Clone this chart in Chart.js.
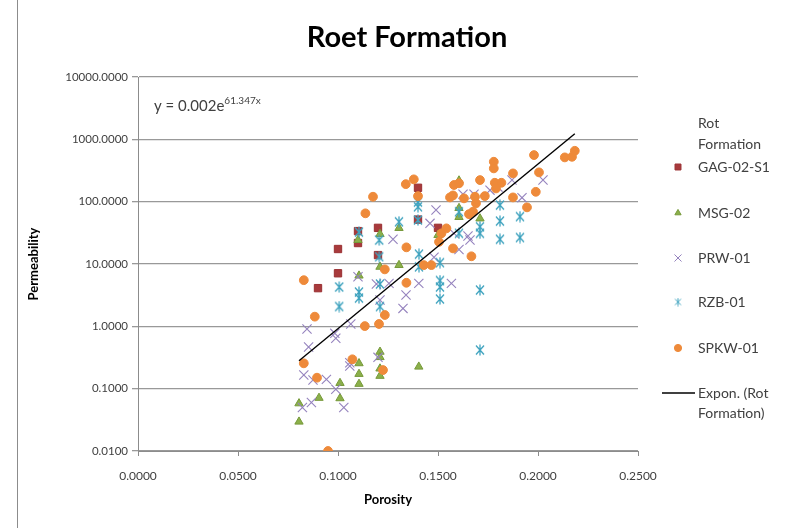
<!DOCTYPE html>
<html>
<head>
<meta charset="utf-8">
<script src="https://cdn.jsdelivr.net/npm/chart.js@4.4.0/dist/chart.umd.min.js"></script>
<style>
  html, body { margin: 0; padding: 0; background: #fff; }
  #wrap { position: relative; width: 796px; height: 528px; }
  #frame { position: absolute; left: 17px; top: 0; width: 1px; height: 528px; background: #8c8c8c; }
</style>
</head>
<body>
<div id="wrap">
  <canvas id="grafico" width="796" height="528"></canvas>
  <div id="frame"></div>
</div>
<script>
// Datos: [porosidad, permeabilidad]
const gagPoints = [[0.090,4.1],[0.100,7.1],[0.100,17.4],[0.110,21.7],[0.110,33.7],[0.120,38],[0.120,13.9],
  [0.140,167],[0.140,51.6],[0.150,38]];

const msgPoints = [[0.110,24.2],[0.121,30.2],[0.1305,37.7],[0.150,29.1],[0.1605,218],[0.1605,78.9],[0.1605,56.6],
  [0.171,53.6],[0.1105,6.5],[0.121,9.0],[0.1305,9.6],[0.121,0.39],[0.121,0.32],[0.121,0.21],[0.121,0.16],
  [0.1105,0.255],[0.1105,0.172],[0.1105,0.119],[0.101,0.123],[0.101,0.070],[0.0905,0.071],[0.0805,0.058],
  [0.0805,0.0295],[0.1404,0.225]];

const prwPoints = [[0.0845,0.905],[0.0853,0.465],[0.0829,0.166],[0.0875,0.138],[0.0942,0.141],[0.0989,0.098],
  [0.1029,0.050],[0.0822,0.050],[0.0867,0.060],[0.1059,0.261],[0.1059,0.231],[0.120,0.318],[0.0984,0.772],
  [0.0989,0.642],[0.1064,1.09],[0.110,6.24],[0.1192,4.77],[0.1255,4.89],[0.121,2.64],[0.134,3.18],[0.1325,1.94],
  [0.1404,4.89],[0.1567,4.89],[0.148,12.8],[0.1605,17.1],[0.166,24.2],[0.1275,24.9],[0.149,73.3],[0.146,44.9],
  [0.158,31],[0.1625,132],[0.168,132],[0.176,153],[0.180,171],[0.187,222],[0.192,116],[0.2025,222],[0.165,28.1]];

const rzbPoints = [[0.1006,4.27],[0.1006,2.08],[0.1105,3.55],[0.1105,2.84],[0.1105,32.5],[0.1206,24.2],[0.1206,13.1],
  [0.121,4.77],[0.121,2.08],[0.1305,47.6],[0.140,98.5],[0.140,82.8],[0.140,50.7],[0.1405,14.4],[0.1405,9.0],
  [0.151,10.5],[0.151,5.43],[0.151,4.27],[0.151,2.74],[0.1605,68.9],[0.1605,31.0],[0.171,39.6],[0.171,31.0],
  [0.171,3.82],[0.171,0.417],[0.181,88.2],[0.181,48.8],[0.181,24.9],[0.191,57.6],[0.191,26.6]];

const spkwPoints = [[0.0829,5.5],[0.0884,1.43],[0.0829,0.255],[0.0895,0.15],[0.095,0.01],[0.1072,0.296],
  [0.1134,1.01],[0.1205,1.09],[0.1234,1.52],[0.1234,8.2],[0.1225,0.199],[0.1342,18.5],[0.1342,5.0],[0.1429,9.6],
  [0.1467,9.6],[0.1505,22.7],[0.1575,17.8],[0.1667,13.3],[0.1175,120],[0.1137,65],[0.1339,191],[0.1379,228],
  [0.140,123],[0.1542,37.3],[0.1517,31],[0.156,117],[0.158,185],[0.1605,197],[0.163,113],[0.1685,120],[0.169,94],
  [0.1675,69],[0.1655,63],[0.171,222],[0.1734,123],[0.1779,437],[0.1779,342],[0.1784,201],[0.1817,201],[0.179,163],
  [0.1875,284],[0.1875,117],[0.1945,81],[0.198,559],[0.2005,295],[0.1989,144],[0.2134,513],[0.217,525],
  [0.2184,655],[0.1575,126]];

// Linea de tendencia (extremos)
const trendX = [0.0805, 0.2184];
const trendY = [0.28, 1230];

const yTicks = [0.01, 0.1, 1, 10, 100, 1000, 10000];
const xTicks = [0, 0.05, 0.1, 0.15, 0.2, 0.25];
const seriesNames = ['GAG-02-S1', 'MSG-02', 'PRW-01', 'RZB-01', 'SPKW-01'];

const FONT = 'Lato, "Open Sans", sans-serif';
const TXT = '#404040';

function toXY(arr) {
  return arr.map(p => ({ x: p[0], y: p[1] }));
}

// Marcador asterisco tipo Excel (linea vertical + aspa)
function makeAsterisk(w, h, lw) {
  const c = document.createElement('canvas');
  c.width = w; c.height = h;
  const g = c.getContext('2d');
  const m = w / 2;
  g.strokeStyle = '#3FA3BF';
  g.lineWidth = lw;
  g.beginPath();
  g.moveTo(m, 0.5); g.lineTo(m, h - 0.5);
  g.moveTo(1, 1.5); g.lineTo(w - 1, h - 1.5);
  g.moveTo(w - 1, 1.5); g.lineTo(1, h - 1.5);
  g.stroke();
  return c;
}
const asteriskBig = makeAsterisk(10, 12, 1.3);
const asteriskSmall = makeAsterisk(8, 9, 1);

const styles = [
  { pointStyle: 'rect', radius: 5.2, bg: '#A83A3C', border: '#9A3032', bw: 1 },
  { pointStyle: 'triangle', radius: 4.8, bg: '#8BB04A', border: '#76993A', bw: 1 },
  { pointStyle: 'crossRot', radius: 6.5, bg: '#9583BE', border: '#9583BE', bw: 1.1 },
  { pointStyle: asteriskBig, radius: 5, bg: '#4BACC6', border: '#4BACC6', bw: 1 },
  { pointStyle: 'circle', radius: 4.4, bg: '#EE8A3A', border: '#EE8A3A', bw: 1 }
];

const allSeries = [gagPoints, msgPoints, prwPoints, rzbPoints, spkwPoints];
const datasets = allSeries.map((pts, i) => ({
  label: seriesNames[i],
  data: toXY(pts),
  pointStyle: styles[i].pointStyle,
  pointRadius: styles[i].radius,
  pointHoverRadius: styles[i].radius,
  backgroundColor: styles[i].bg,
  borderColor: styles[i].border,
  pointBorderWidth: styles[i].bw,
  order: 5 - i
}));

datasets.push({
  type: 'line',
  label: 'Expon. (Rot Formation)',
  data: trendX.map((x, i) => ({ x: x, y: trendY[i] })),
  borderColor: '#000',
  borderWidth: 1.4,
  pointRadius: 0,
  showLine: true,
  fill: false,
  order: 0
});

// Titulo, ecuacion y leyenda
const decoraciones = {
  id: 'decoraciones',
  afterDraw(chart) {
    const ctx = chart.ctx;
    ctx.save();
    ctx.fillStyle = '#000';
    ctx.font = 'bold 29px ' + FONT;
    ctx.textAlign = 'center';
    ctx.textBaseline = 'middle';
    ctx.fillText('Roet Formation', 407, 38);

    // ecuacion
    ctx.fillStyle = TXT;
    ctx.textAlign = 'left';
    ctx.textBaseline = 'alphabetic';
    ctx.font = '15px ' + FONT;
    const base = 'y = 0.002e';
    ctx.fillText(base, 154, 111);
    const w = ctx.measureText(base).width;
    ctx.font = '10px ' + FONT;
    ctx.fillText('61.347x', 154 + w, 104);

    // leyenda
    ctx.font = '14px ' + FONT;
    ctx.textBaseline = 'middle';
    ctx.fillText('Rot', 698, 123);
    ctx.fillText('Formation', 698, 144);
    const ys = [167, 213, 258, 302, 348];
    const legendStyles = [
      { pointStyle: 'rect', radius: 4.2 },
      { pointStyle: 'triangle', radius: 3.6 },
      { pointStyle: 'crossRot', radius: 5 },
      { pointStyle: asteriskSmall, radius: 4 },
      { pointStyle: 'circle', radius: 3.6 }
    ];
    ys.forEach((y, i) => {
      ctx.fillStyle = styles[i].bg;
      ctx.strokeStyle = styles[i].border;
      ctx.lineWidth = 1;
      Chart.helpers.drawPoint(ctx, { pointStyle: legendStyles[i].pointStyle, radius: legendStyles[i].radius, rotation: 0, borderWidth: 1 }, 678, y);
      ctx.fillStyle = TXT;
      ctx.fillText(seriesNames[i], 698, y);
    });
    ctx.strokeStyle = '#000';
    ctx.lineWidth = 1.4;
    ctx.beginPath();
    ctx.moveTo(662, 393);
    ctx.lineTo(695, 393);
    ctx.stroke();
    ctx.fillStyle = TXT;
    ctx.fillText('Expon. (Rot', 698, 393);
    ctx.fillText('Formation)', 698, 413);
    ctx.restore();
  }
};

const ctx = document.getElementById('grafico').getContext('2d');
new Chart(ctx, {
  type: 'scatter',
  data: { datasets: datasets },
  plugins: [decoraciones],
  options: {
    responsive: false,
    animation: false,
    layout: { padding: { left: 20, top: 77, right: 158, bottom: 0 } },
    plugins: { legend: { display: false }, tooltip: { enabled: false }, title: { display: false } },
    scales: {
      x: {
        type: 'linear',
        min: 0,
        max: 0.25,
        afterBuildTicks: scale => { scale.ticks = xTicks.map(v => ({ value: v })); },
        afterFit: scale => { scale.height = 77; },
        ticks: {
          color: TXT,
          font: { family: FONT, size: 12 },
          padding: 13,
          maxRotation: 0,
          callback: v => Number(v).toFixed(4)
        },
        grid: { drawOnChartArea: false, drawTicks: true, tickLength: 5, color: '#8c8c8c' },
        border: { color: '#8c8c8c', width: 1 },
        title: {
          display: true,
          text: 'Porosity',
          color: '#000',
          font: { family: FONT, size: 13, weight: 'bold' },
          padding: { top: 0, bottom: 20 }
        }
      },
      y: {
        type: 'logarithmic',
        min: 0.01,
        max: 10000,
        afterBuildTicks: scale => { scale.ticks = yTicks.map(v => ({ value: v })); },
        afterFit: scale => { scale.width = 118; },
        ticks: {
          color: TXT,
          font: { family: FONT, size: 11.5 },
          padding: 4,
          callback: v => Number(v).toFixed(4)
        },
        grid: { color: '#999', lineWidth: 1.3, tickLength: 6 },
        border: { color: '#8c8c8c', width: 1 },
        title: {
          display: true,
          text: 'Permeability',
          color: '#000',
          font: { family: FONT, size: 13, weight: 'bold' },
          padding: { top: 6, bottom: 0 }
        }
      }
    }
  }
});
</script>
</body>
</html>
